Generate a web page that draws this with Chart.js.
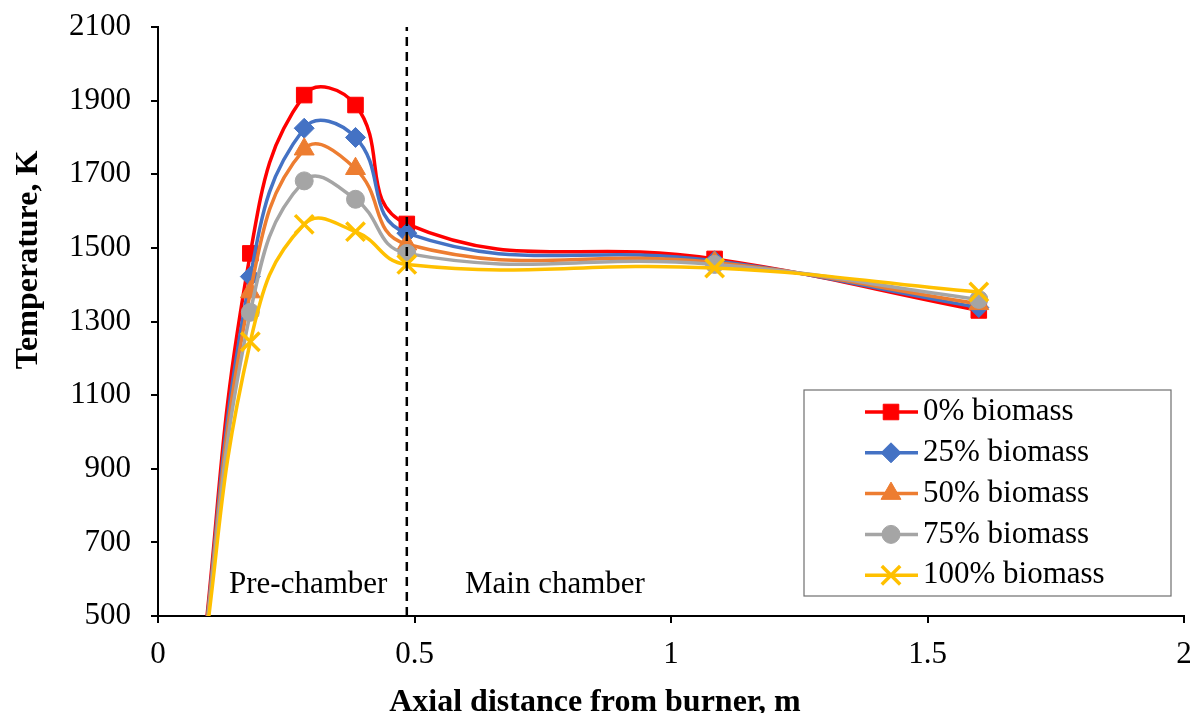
<!DOCTYPE html>
<html>
<head>
<meta charset="utf-8">
<script src="https://cdn.jsdelivr.net/npm/chart.js@4.4.1/dist/chart.umd.min.js"></script>
<style>
  html, body { margin: 0; padding: 0; background: #fff; }
  #wrap { width: 1190px; height: 713px; }
</style>
</head>
<body>
<div id="wrap"><canvas id="chart" width="1190" height="713"></canvas></div>
<script>
const distances = [0.08, 0.18, 0.285, 0.385, 0.485, 1.085, 1.6];
const seriesNames = ['0% biomass', '25% biomass', '50% biomass', '75% biomass', '100% biomass'];
const temp0 = [300, 1485, 1915, 1888, 1565, 1470, 1330];
const temp25 = [300, 1422, 1825, 1800, 1540, 1465, 1338];
const temp50 = [300, 1380, 1768, 1715, 1510, 1460, 1348];
const temp75 = [300, 1325, 1682, 1632, 1485, 1455, 1360];
const temp100 = [300, 1245, 1564, 1544, 1455, 1445, 1380];
const yTicks = [500, 700, 900, 1100, 1300, 1500, 1700, 1900, 2100];
const xTicks = [0, 0.5, 1, 1.5, 2];
const chamberDivider = 0.485;

const colors = ['#FF0000', '#4472C4', '#ED7D31', '#A5A5A5', '#FFC000'];
const markers = [
  { style: 'rect', radius: 11 },
  { style: 'rectRot', radius: 10 },
  { style: 'triangle', radius: 11.5 },
  { style: 'circle', radius: 9 },
  { style: 'crossRot', radius: 13 }
];
const allTemps = [temp0, temp25, temp50, temp75, temp100];

const serif = "'Liberation Serif', 'Times New Roman', serif";

function toPoints(ys) {
  return distances.map((x, i) => ({ x: x, y: ys[i] }));
}

const datasets = allTemps.map((ys, i) => ({
  label: seriesNames[i],
  data: toPoints(ys),
  borderColor: colors[i],
  backgroundColor: colors[i],
  borderWidth: 3.5,
  tension: 0.45,
  pointStyle: markers[i].style,
  pointRadius: markers[i].radius,
  pointBorderWidth: i === 4 ? 3.5 : 1,
  pointBackgroundColor: colors[i],
  pointBorderColor: colors[i],
  order: 10 - i
}));

datasets.push({
  label: 'divider',
  data: [{ x: chamberDivider, y: yTicks[0] }, { x: chamberDivider, y: yTicks[yTicks.length - 1] }],
  borderColor: '#000',
  borderWidth: 2.5,
  borderDash: [9, 6],
  pointRadius: 0,
  tension: 0,
  order: 0
});

const textPlugin = {
  id: 'extraText',
  afterDraw(chart) {
    const ctx = chart.ctx;
    ctx.save();
    ctx.fillStyle = '#000';

    // axis titles
    ctx.font = 'bold 32px ' + serif;
    ctx.textAlign = 'center';
    ctx.textBaseline = 'alphabetic';
    ctx.fillText('Axial distance from burner, m', 595, 711);

    ctx.save();
    ctx.translate(37, 260);
    ctx.rotate(-Math.PI / 2);
    ctx.fillText('Temperature, K', 0, 0);
    ctx.restore();

    // region labels
    ctx.font = '31px ' + serif;
    ctx.textAlign = 'left';
    ctx.fillText('Pre-chamber', 229, 593);
    ctx.fillText('Main chamber', 465, 593);

    // legend box
    ctx.strokeStyle = '#6f6f6f';
    ctx.lineWidth = 1.2;
    ctx.strokeRect(804, 390, 367, 206);

    ctx.textBaseline = 'middle';
    seriesNames.forEach((name, i) => {
      const y = 412 + i * 40.8;
      ctx.strokeStyle = colors[i];
      ctx.fillStyle = colors[i];
      ctx.lineWidth = 3.5;
      ctx.setLineDash([]);
      ctx.beginPath();
      ctx.moveTo(865, y);
      ctx.lineTo(918, y);
      ctx.stroke();
      ctx.lineWidth = i === 4 ? 3.5 : 1;
      Chart.helpers.drawPoint(ctx, {
        pointStyle: markers[i].style,
        radius: markers[i].radius,
        borderWidth: i === 4 ? 3.5 : 1,
        rotation: 0
      }, 891, y);
      ctx.fillStyle = '#000';
      ctx.fillText(name, 923, y);
    });
    ctx.restore();
  }
};

new Chart(document.getElementById('chart'), {
  type: 'line',
  data: { datasets: datasets },
  options: {
    responsive: false,
    animation: false,
    devicePixelRatio: 1,
    layout: { autoPadding: false, padding: { top: 27, right: 6, left: 0, bottom: 0 } },
    plugins: {
      legend: { display: false },
      tooltip: { enabled: false }
    },
    scales: {
      x: {
        type: 'linear',
        min: xTicks[0],
        max: xTicks[xTicks.length - 1],
        afterBuildTicks: (s) => { s.ticks = xTicks.map(v => ({ value: v })); },
        afterFit: (s) => { s.height = 97; s.paddingLeft = 0; s.paddingRight = 0; },
        grid: { drawOnChartArea: false, drawTicks: true, tickLength: 7, color: '#000', lineWidth: 2 },
        border: { display: true, color: '#000', width: 2 },
        ticks: { color: '#000', font: { family: serif, size: 31 }, padding: 13, maxRotation: 0, callback: (v) => String(v) }
      },
      y: {
        type: 'linear',
        min: yTicks[0],
        max: yTicks[yTicks.length - 1],
        afterBuildTicks: (s) => { s.ticks = yTicks.map(v => ({ value: v })); },
        afterFit: (s) => { s.width = 158; s.paddingTop = 0; s.paddingBottom = 0; },
        grid: { drawOnChartArea: false, drawTicks: true, tickLength: 7, color: '#000', lineWidth: 2 },
        border: { display: true, color: '#000', width: 2 },
        ticks: { color: '#000', font: { family: serif, size: 31 }, padding: 20, callback: (v) => String(v) }
      }
    }
  },
  plugins: [textPlugin]
});
</script>
</body>
</html>
